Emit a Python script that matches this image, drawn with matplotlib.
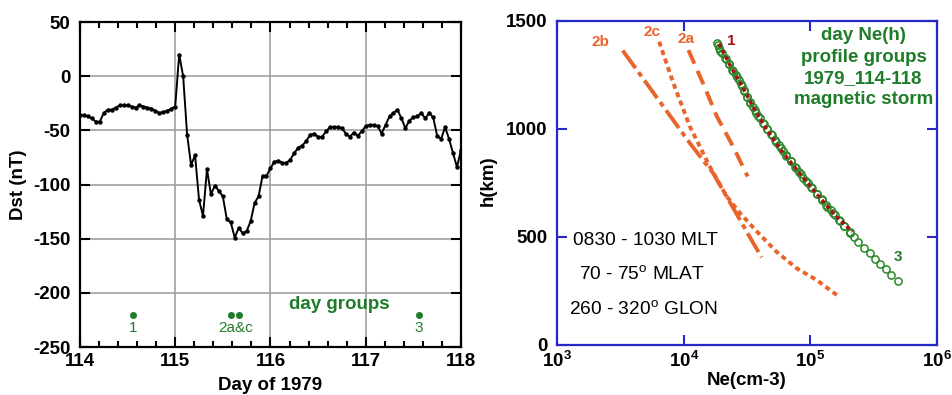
import numpy as np
import matplotlib
matplotlib.use("Agg")
import matplotlib.pyplot as plt

plt.rcParams['font.family'] = ['Liberation Sans', 'DejaVu Sans']
plt.rcParams['mathtext.fontset'] = 'custom'
plt.rcParams['mathtext.rm'] = 'Liberation Sans'
plt.rcParams['mathtext.bf'] = 'Liberation Sans:bold'
plt.rcParams['axes.unicode_minus'] = False

# --- left panel: hourly Dst, day 114.0 to 118.0 ---
hours = np.arange(97)
dst = [-36, -36, -37, -39, -42, -42, -34, -31, -31, -29, -27, -27,
       -27, -28, -29, -27, -28, -29, -30, -32, -34, -33, -32, -30,
       -28, 20, 0, -54, -82, -73, -114, -129, -86,
       -109, -101, -106, -111, -132, -135, -149, -140, -145, -143, -134, -117,
       -111, -92, -92, -85, -79, -78, -80, -80, -77, -71, -66, -64,
       -60, -54, -53, -56, -56, -51, -47, -47, -47, -48,
       -53, -56, -52, -55, -51, -46, -45, -45, -46, -53, -45, -37,
       -34, -31, -39, -48, -41, -38, -37, -34, -39, -34, -38, -55,
       -58, -47, -58, -71, -84, -68]
days = 114 + hours / 24.0

group_days = [114.56, 115.59, 115.67, 117.56]
group_level = -220
group_labels = ['1', '2a&c', '3']
group_label_days = [114.56, 115.63, 117.56]

# --- right panel: Ne(h) profiles ---
h_3 = [1400, 1375, 1350, 1325, 1300, 1275, 1250, 1225, 1200, 1175, 1150, 1125,
       1100, 1075, 1050, 1025, 1000, 975, 950, 925, 900, 875, 850, 825,
       800, 775, 750, 725, 700, 675, 650, 625, 600, 575, 550, 525,
       500, 475, 450, 425, 400, 375, 350, 325, 295]
ne_3 = [1.82e4, 1.91e4, 2.0e4, 2.14e4, 2.29e4, 2.40e4, 2.57e4, 2.75e4, 2.88e4, 3.02e4, 3.16e4, 3.31e4,
        3.55e4, 3.72e4, 3.98e4, 4.27e4, 4.52e4, 4.90e4, 5.25e4, 5.62e4, 6.03e4, 6.46e4, 7.0e4, 7.59e4,
        8.13e4, 8.81e4, 9.55e4, 1.035e5, 1.12e5, 1.23e5, 1.32e5, 1.445e5, 1.57e5, 1.70e5, 1.86e5, 2.04e5,
        2.21e5, 2.40e5, 2.63e5, 2.95e5, 3.24e5, 3.55e5, 3.98e5, 4.37e5, 4.9e5]

# group 1 circles (under the dotted group 1 curve)
h_1c = [1390, 1360, 1330, 1300, 1270, 1240, 1210, 1180, 1150, 1120, 1090, 1060,
        1030, 1000, 970, 940, 910, 880, 850, 820, 790, 760, 730, 700,
        670, 640, 610, 580, 550, 520]
ne_1c = [1.86e4, 1.95e4, 2.11e4, 2.29e4, 2.43e4, 2.63e4, 2.82e4, 2.99e4, 3.16e4, 3.35e4, 3.63e4, 3.89e4,
         4.22e4, 4.52e4, 4.95e4, 5.37e4, 5.89e4, 6.38e4, 7.0e4, 7.67e4, 8.41e4, 9.23e4, 1.02e5, 1.12e5,
         1.24e5, 1.36e5, 1.51e5, 1.68e5, 1.86e5, 2.07e5]

h_1 = [1395, 1300, 1200, 1100, 1000, 900, 800, 700, 600, 525]
ne_1 = [1.9e4, 2.3e4, 2.88e4, 3.55e4, 4.5e4, 5.9e4, 8.1e4, 1.12e5, 1.57e5, 2.15e5]

h_2a = [1365, 1200, 1060, 920, 780]
ne_2a = [1.09e4, 1.45e4, 1.82e4, 2.45e4, 3.2e4]

h_2b = [1363, 1204, 934, 795, 620, 471, 406]
ne_2b = [3.3e3, 5.2e3, 1.12e4, 1.71e4, 2.54e4, 3.55e4, 4.13e4]

h_2c = [1404, 1211, 1011, 825, 687, 610, 517, 432, 355, 301, 221]
ne_2c = [6.4e3, 8.3e3, 1.12e4, 1.61e4, 2.19e4, 2.79e4, 3.9e4, 5.4e4, 7.8e4, 1.12e5, 1.71e5]

ORANGE = '#e8642a'
DARKRED = '#a3141c'
GREEN = '#1f7d2a'
BLUE = '#2828c8'

fig = plt.figure(figsize=(9.53, 3.95), dpi=100)

# left panel
ax1 = fig.add_axes([0.0839, 0.1215, 0.3998, 0.8228])
ax1.plot(days, dst, color='black', lw=1.4, marker='o', ms=2.2)
ax1.plot(group_days, [group_level] * len(group_days), 'o', color=GREEN, ms=4)
for lab, d in zip(group_labels, group_label_days):
    ax1.text(d, -232, lab, color=GREEN, fontsize=11, ha='center', va='center')
ax1.text(116.72, -211, 'day groups', color=GREEN, fontsize=13.5,
         fontweight='bold', ha='center', va='center')
ax1.set_xlim(114, 118)
ax1.set_ylim(-250, 50)
ax1.set_xticks([114, 115, 116, 117, 118])
ax1.set_xticks(np.arange(114, 118.01, 0.2), minor=True)
ax1.set_yticks(np.arange(-250, 51, 50))
ax1.grid(True, which='major', color='#a0a0a0', lw=1.2)
ax1.tick_params(which='both', direction='in', top=True, right=True,
                width=1.5, labelsize=13.5)
ax1.tick_params(which='major', length=7)
ax1.tick_params(which='minor', length=4)
ax1.tick_params(axis='y', pad=7)
ax1.tick_params(axis='x', pad=4)
for lab in ax1.get_xticklabels() + ax1.get_yticklabels():
    lab.set_fontweight('bold')
for sp in ax1.spines.values():
    sp.set_linewidth(1.6)
ax1.set_xlabel('Day of 1979', fontsize=13.5, fontweight='bold')
ax1.set_ylabel('Dst (nT)', fontsize=13.5, fontweight='bold')
ax1.xaxis.set_label_coords(0.5, -0.092)
ax1.yaxis.set_label_coords(-0.139, 0.5)

# right panel
ax2 = fig.add_axes([0.5845, 0.1266, 0.3987, 0.8203])
ax2.plot(ne_3, h_3, 'o', mfc='none', mec='#2a8a2a', mew=1.1, ms=5.2)
ax2.plot(ne_1c, h_1c, 'o', mfc='none', mec='#2a8a2a', mew=1.1, ms=5.2)
ax2.plot(ne_1, h_1, color=DARKRED, lw=2.6, ls=(0, (1.1, 0.9)))
ax2.plot(ne_2a, h_2a, color=ORANGE, lw=2.8, ls=(0, (3.8, 2.0)))
ax2.plot(ne_2b, h_2b, color=ORANGE, lw=2.8, ls=(0, (5.6, 1.3, 1.3, 1.3)))
ax2.plot(ne_2c, h_2c, color=ORANGE, lw=2.8, ls=(0, (1.3, 1.0)))

ax2.text(2.2e3, 1404, '2b', color=ORANGE, fontsize=11, fontweight='bold', ha='center', va='center')
ax2.text(5.6e3, 1450, '2c', color=ORANGE, fontsize=11, fontweight='bold', ha='center', va='center')
ax2.text(1.04e4, 1417, '2a', color=ORANGE, fontsize=11, fontweight='bold', ha='center', va='center')
ax2.text(2.37e4, 1409, '1', color=DARKRED, fontsize=11, fontweight='bold', ha='center', va='center')
ax2.text(4.96e5, 406, '3', color=GREEN, fontsize=11, fontweight='bold', ha='center', va='center')

ax2.text(2.63e5, 1284, 'day Ne(h)\nprofile groups\n1979_114-118\nmagnetic storm',
         color=GREEN, fontsize=13.5, fontweight='bold', ha='center', va='center',
         linespacing=1.32)
ax2.text(1.34e3, 486, '0830 - 1030 MLT', fontsize=13.8, ha='left', va='center')
ax2.text(4.7e3, 324, r'70 - 75$^{\rm o}$ MLAT', fontsize=13.8, ha='center', va='center')
ax2.text(4.8e3, 162, r'260 - 320$^{\rm o}$ GLON', fontsize=13.8, ha='center', va='center')

ax2.set_xscale('log')
ax2.set_xlim(1e3, 1e6)
ax2.set_ylim(0, 1500)
ax2.set_xticks([1e3, 1e4, 1e5, 1e6])
ax2.set_xticklabels([r'$\mathbf{10^{3}}$', r'$\mathbf{10^{4}}$',
                     r'$\mathbf{10^{5}}$', r'$\mathbf{10^{6}}$'])
ax2.xaxis.set_minor_locator(matplotlib.ticker.NullLocator())
ax2.set_yticks([0, 500, 1000, 1500])
ax2.tick_params(which='both', direction='in', top=True, right=True,
                color=BLUE, width=1.5, length=7, labelsize=13.5)
ax2.tick_params(axis='y', pad=7)
ax2.tick_params(axis='x', pad=4)
for lab in ax2.get_yticklabels():
    lab.set_fontweight('bold')
for sp in ax2.spines.values():
    sp.set_color(BLUE)
    sp.set_linewidth(1.6)
ax2.set_xlabel('Ne(cm-3)', fontsize=13.5, fontweight='bold')
ax2.set_ylabel('h(km)', fontsize=13.5, fontweight='bold')
ax2.xaxis.set_label_coords(0.5, -0.083)
ax2.yaxis.set_label_coords(-0.158, 0.506)

fig.savefig('out.png', dpi=100)
